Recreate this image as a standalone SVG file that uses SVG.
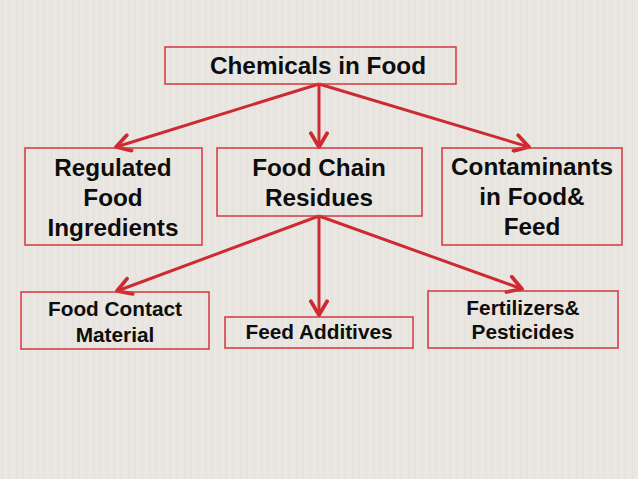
<svg xmlns="http://www.w3.org/2000/svg" width="638" height="479" viewBox="0 0 638 479">
<style>
.box{fill:none;stroke:#d2373d;stroke-width:1.5}
.lbl{font-family:"Liberation Sans",Arial,sans-serif;font-weight:bold;fill:#0d0d0d;text-anchor:middle}
.big{font-size:24.3px}
.small{font-size:20.8px}
.conn{stroke:#cd2b31;stroke-width:3;fill:none;marker-end:url(#arr)}
</style>
<defs>
<pattern id="stripes" width="7" height="479" patternUnits="userSpaceOnUse">
<rect width="7" height="479" fill="#e9e6e1"/>
<rect x="2" width="1" height="479" fill="#e2dfda" opacity="0.6"/>
<rect x="5" width="1" height="479" fill="#eeebe7" opacity="0.6"/>
</pattern>
<marker id="arr" markerUnits="userSpaceOnUse" markerWidth="20" markerHeight="20" viewBox="-12 -8 14 16" refX="0" refY="0" orient="auto">
<path d="M-11,-6.5 L0,0 L-11,6.5" fill="none" stroke="#cd2b31" stroke-width="3" stroke-linejoin="round" stroke-linecap="round"/>
</marker>
</defs>
<rect width="638" height="479" fill="url(#stripes)"/>
<g id="connectors">
<line class="conn" x1="319" y1="84" x2="116" y2="147"/>
<line class="conn" x1="319" y1="84" x2="319" y2="147"/>
<line class="conn" x1="319" y1="84" x2="529" y2="147"/>
<line class="conn" x1="319" y1="216" x2="117" y2="291"/>
<line class="conn" x1="319" y1="216" x2="319" y2="315"/>
<line class="conn" x1="319" y1="216" x2="522" y2="289"/>
</g>
<g id="n-chemicals">
<rect class="box" x="165" y="47" width="291" height="37"/>
<text class="lbl big" x="318" y="74">Chemicals in Food</text>
</g>
<g id="n-regulated">
<rect class="box" x="25" y="148" width="177" height="97"/>
<text class="lbl big" x="113" y="176">Regulated</text>
<text class="lbl big" x="113" y="206">Food</text>
<text class="lbl big" x="113" y="236">Ingredients</text>
</g>
<g id="n-foodchain">
<rect class="box" x="217" y="148" width="205" height="68"/>
<text class="lbl big" x="319" y="176">Food Chain</text>
<text class="lbl big" x="319" y="206">Residues</text>
</g>
<g id="n-contaminants">
<rect class="box" x="442" y="148" width="180" height="97"/>
<text class="lbl big" x="532" y="175">Contaminants</text>
<text class="lbl big" x="532" y="205">in Food&amp;</text>
<text class="lbl big" x="532" y="235">Feed</text>
</g>
<g id="n-contact">
<rect class="box" x="21" y="292" width="188" height="57"/>
<text class="lbl small" x="115" y="316">Food Contact</text>
<text class="lbl small" x="115" y="342">Material</text>
</g>
<g id="n-additives">
<rect class="box" x="225" y="317" width="188" height="31"/>
<text class="lbl small" x="319" y="339">Feed Additives</text>
</g>
<g id="n-fertilizers">
<rect class="box" x="428" y="291" width="190" height="57"/>
<text class="lbl small" x="523" y="315">Fertilizers&amp;</text>
<text class="lbl small" x="523" y="339">Pesticides</text>
</g>
</svg>
